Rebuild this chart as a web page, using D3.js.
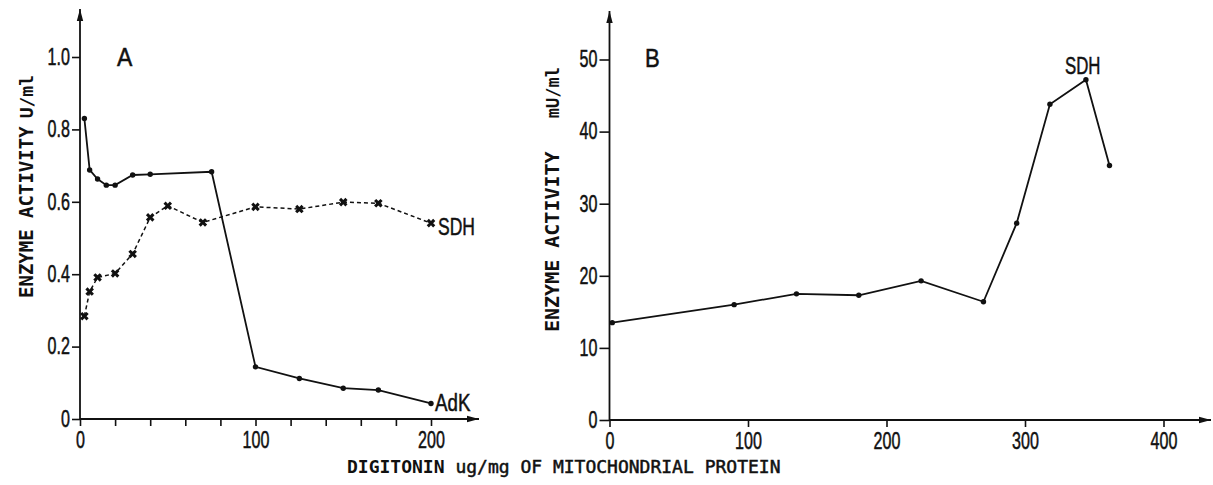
<!DOCTYPE html>
<html>
<head>
<meta charset="utf-8">
<script src="https://cdn.jsdelivr.net/npm/d3@7"></script>
<style>
  html, body { margin: 0; padding: 0; background: #fff; }
  svg { display: block; }
  .tick line { stroke: #111; stroke-width: 1.6; }
  .num { font-family: "Liberation Sans", Arial, sans-serif; font-size: 23px; fill: #111; stroke: #111; stroke-width: 0.5; }
  .mono { font-family: "DejaVu Sans Mono", monospace; fill: #111; }
</style>
</head>
<body>
<svg id="chart" width="1213" height="485"></svg>
<script>
// Panel A: AdK and SDH activity (U/ml) versus digitonin dose
const adkX  = [2.5, 5.5, 10, 15, 20, 30, 40, 75, 100, 125, 150, 170, 200];
const adkY  = [0.83, 0.688, 0.663, 0.646, 0.646, 0.674, 0.676, 0.683, 0.144, 0.112, 0.085, 0.080, 0.043];
const sdhAX = [2.5, 5.5, 10, 20, 30, 40, 50, 70, 100, 125, 150, 170, 200];
const sdhAY = [0.284, 0.352, 0.391, 0.402, 0.456, 0.557, 0.589, 0.543, 0.586, 0.580, 0.599, 0.596, 0.541];
// Panel B: SDH activity (mU/ml) versus digitonin dose
const sdhBX = [2, 90, 135, 180, 225, 270, 294, 318, 344, 361];
const sdhBY = [13.5, 16.0, 17.5, 17.3, 19.3, 16.4, 27.3, 43.8, 47.2, 35.3];

// Tick values and labels
const aXTicks = [0, 20, 40, 60, 80, 100, 120, 140, 160, 180, 200];
const aXLabels = [0, 100, 200];
const aYTicks = [0, 0.2, 0.4, 0.6, 0.8, 1.0];
const bXTicks = [0, 100, 200, 300, 400];
const bYTicks = [0, 10, 20, 30, 40, 50];

const svg = d3.select("#chart");
const ink = "#111";
const squeeze = 0.7; // horizontal squeeze for the condensed numerals

const xA = d3.scaleLinear([0, 200], [80, 431]);
const yA = d3.scaleLinear([0, 1], [419, 57]);
const xB = d3.scaleLinear([0, 400], [609.5, 1163.5]);
const yB = d3.scaleLinear([0, 50], [420, 59.5]);

function condense(g, xOff) {
  g.selectAll("text")
    .attr("class", "num")
    .attr("fill", ink)
    .attr("transform", `scale(${squeeze},1)`);
  if (xOff !== undefined) g.selectAll("text").attr("x", xOff / squeeze);
}

// axis line with an arrow head at its far end
function arrowAxis(x1, y1, x2, y2) {
  svg.append("line").attr("x1", x1).attr("y1", y1).attr("x2", x2).attr("y2", y2)
    .attr("stroke", ink).attr("stroke-width", 1.8);
  const ang = Math.atan2(y2 - y1, x2 - x1);
  const L = 12, w = 3.2;
  const bx = x2 - L * Math.cos(ang), by = y2 - L * Math.sin(ang);
  const px = -Math.sin(ang) * w, py = Math.cos(ang) * w;
  svg.append("path")
    .attr("d", `M${x2},${y2}L${bx + px},${by + py}L${bx - px},${by - py}Z`)
    .attr("fill", ink);
}

// ---------- Panel A ----------
arrowAxis(xA(0), yA(0), 479, yA(0));
arrowAxis(xA(0), yA(0) + 1, xA(0), 9);

const gAx = svg.append("g").attr("transform", `translate(0,${yA(0)})`)
  .call(d3.axisBottom(xA).tickValues(aXTicks).tickSize(7).tickPadding(6)
    .tickFormat(d => aXLabels.includes(d) ? d : ""));
gAx.select(".domain").remove();
condense(gAx);

const gAy = svg.append("g").attr("transform", `translate(${xA(0)},0)`)
  .call(d3.axisLeft(yA).tickValues(aYTicks).tickSize(8)
    .tickFormat(d => d === 0 ? "0" : d.toFixed(1)));
gAy.select(".domain").remove();
condense(gAy, -10);

const lineA = d3.line().x(d => xA(d[0])).y(d => yA(d[1]));
const adk = adkX.map((x, i) => [x, adkY[i]]);
const sdhA = sdhAX.map((x, i) => [x, sdhAY[i]]);

svg.append("path").attr("d", lineA(adk)).attr("fill", "none")
  .attr("stroke", ink).attr("stroke-width", 1.8);
svg.append("path").attr("d", lineA(sdhA)).attr("fill", "none")
  .attr("stroke", ink).attr("stroke-width", 1.5).attr("stroke-dasharray", "4,3");

svg.append("g").selectAll("circle").data(adk).join("circle")
  .attr("cx", d => xA(d[0])).attr("cy", d => yA(d[1])).attr("r", 2.7).attr("fill", ink);

const cross = d3.symbol().type(d3.symbolCross).size(46);
svg.append("g").selectAll("path").data(sdhA).join("path")
  .attr("d", cross)
  .attr("transform", d => `translate(${xA(d[0])},${yA(d[1])}) rotate(45)`)
  .attr("fill", ink);

function label(x, y, txt, size, sx) {
  svg.append("g").attr("transform", `translate(${x},${y})`)
    .append("text").attr("class", "num").style("font-size", size + "px")
    .attr("transform", `scale(${sx},1)`).text(txt);
}
label(117, 66, "A", 25, 0.92);
label(438, 235, "SDH", 24, 0.73);
label(435, 411, "AdK", 24, 0.78);

// y title A
svg.append("text").attr("class", "mono")
  .attr("transform", `translate(33,298) rotate(-90)`)
  .style("font-size", "19px").style("font-weight", "bold")
  .text("ENZYME ACTIVITY");
svg.append("text").attr("class", "mono")
  .attr("transform", `translate(33,75) rotate(-90)`)
  .attr("text-anchor", "end")
  .style("font-size", "18px").style("font-weight", "bold")
  .text("U/ml");

// ---------- Panel B ----------
arrowAxis(xB(0), yB(0), 1211, yB(0));
arrowAxis(xB(0), yB(0) + 1, xB(0), 11);

const gBx = svg.append("g").attr("transform", `translate(0,${yB(0)})`)
  .call(d3.axisBottom(xB).tickValues(bXTicks).tickSize(7).tickPadding(6));
gBx.select(".domain").remove();
condense(gBx);

const gBy = svg.append("g").attr("transform", `translate(${xB(0)},0)`)
  .call(d3.axisLeft(yB).tickValues(bYTicks).tickSize(10));
gBy.select(".domain").remove();
condense(gBy, -12);

const lineB = d3.line().x(d => xB(d[0])).y(d => yB(d[1]));
const sdhB = sdhBX.map((x, i) => [x, sdhBY[i]]);
svg.append("path").attr("d", lineB(sdhB)).attr("fill", "none")
  .attr("stroke", ink).attr("stroke-width", 1.8);
svg.append("g").selectAll("circle").data(sdhB).join("circle")
  .attr("cx", d => xB(d[0])).attr("cy", d => yB(d[1])).attr("r", 2.7).attr("fill", ink);

label(645, 67, "B", 26, 0.85);
label(1065, 74, "SDH", 23, 0.73);

// y title B
svg.append("text").attr("class", "mono")
  .attr("transform", `translate(559,332) rotate(-90)`)
  .style("font-size", "20px").style("font-weight", "bold")
  .text("ENZYME ACTIVITY");
svg.append("text").attr("class", "mono")
  .attr("transform", `translate(559,67) rotate(-90)`)
  .attr("text-anchor", "end")
  .style("font-size", "17px").style("font-weight", "bold")
  .text("mU/ml");

// shared x title
const xt = svg.append("text").attr("class", "mono")
  .attr("x", 347).attr("y", 473).style("font-size", "18px");
xt.append("tspan").style("font-weight", "bold").text("DIGITONIN");
xt.append("tspan").attr("stroke", ink).attr("stroke-width", 0.5)
  .text(" ug/mg OF MITOCHONDRIAL PROTEIN");
</script>
</body>
</html>
